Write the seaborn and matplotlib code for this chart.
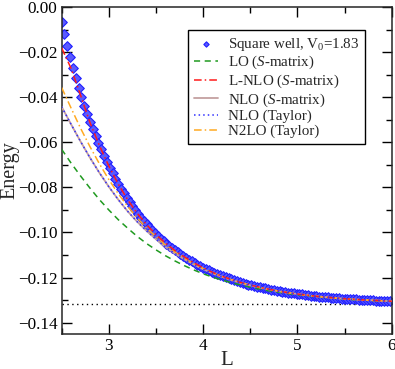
"""
Finite-volume bound state energy: square well vs. effective expansions
"""

import numpy as np
import pandas as pd
import matplotlib
matplotlib.use("Agg")
import matplotlib.pyplot as plt
from matplotlib.ticker import MultipleLocator, FuncFormatter
import seaborn as sns

# ==================== data ====================
# square well points (L grid, step 0.03)
L_well = [
    2.50, 2.53, 2.56, 2.59, 2.62, 2.65, 2.68, 2.71, 2.74, 2.77,
    2.80, 2.83, 2.86, 2.89, 2.92, 2.95, 2.98, 3.01, 3.04, 3.07,
    3.10, 3.13, 3.16, 3.19, 3.22, 3.25, 3.28, 3.31, 3.34, 3.37,
    3.40, 3.43, 3.46, 3.49, 3.52, 3.55, 3.58, 3.61, 3.64, 3.67,
    3.70, 3.73, 3.76, 3.79, 3.82, 3.85, 3.88, 3.91, 3.94, 3.97,
    4.00, 4.03, 4.06, 4.09, 4.12, 4.15, 4.18, 4.21, 4.24, 4.27,
    4.30, 4.33, 4.36, 4.39, 4.42, 4.45, 4.48, 4.51, 4.54, 4.57,
    4.60, 4.63, 4.66, 4.69, 4.72, 4.75, 4.78, 4.81, 4.84, 4.87,
    4.90, 4.93, 4.96, 4.99, 5.02, 5.05, 5.08, 5.11, 5.14, 5.17,
    5.20, 5.23, 5.26, 5.29, 5.32, 5.35, 5.38, 5.41, 5.44, 5.47,
    5.50, 5.53, 5.56, 5.59, 5.62, 5.65, 5.68, 5.71, 5.74, 5.77,
    5.80, 5.83, 5.86, 5.89, 5.92, 5.95, 5.98,
]
E_well = [
    -0.0065, -0.0119, -0.0172, -0.0223, -0.0271, -0.0317, -0.0360, -0.0401, -0.0439, -0.0475,
    -0.0509, -0.0541, -0.0572, -0.0602, -0.0631, -0.0659, -0.0686, -0.0712, -0.0737, -0.0761,
    -0.0784, -0.0805, -0.0826, -0.0846, -0.0865, -0.0884, -0.0901, -0.0918, -0.0934, -0.0949,
    -0.0963, -0.0977, -0.0991, -0.1004, -0.1016, -0.1027, -0.1038, -0.1049, -0.1059, -0.1069,
    -0.1079, -0.1088, -0.1096, -0.1105, -0.1113, -0.1121, -0.1128, -0.1136, -0.1143, -0.1149,
    -0.1156, -0.1162, -0.1168, -0.1174, -0.1179, -0.1185, -0.1190, -0.1194, -0.1199, -0.1204,
    -0.1208, -0.1212, -0.1216, -0.1220, -0.1224, -0.1227, -0.1231, -0.1234, -0.1237, -0.1240,
    -0.1243, -0.1246, -0.1248, -0.1251, -0.1254, -0.1256, -0.1258, -0.1260, -0.1263, -0.1265,
    -0.1267, -0.1269, -0.1270, -0.1272, -0.1274, -0.1275, -0.1277, -0.1278, -0.1280, -0.1281,
    -0.1283, -0.1284, -0.1285, -0.1286, -0.1288, -0.1289, -0.1290, -0.1291, -0.1292, -0.1293,
    -0.1294, -0.1295, -0.1295, -0.1296, -0.1297, -0.1298, -0.1298, -0.1299, -0.1300, -0.1300,
    -0.1301, -0.1302, -0.1302, -0.1303, -0.1303, -0.1304, -0.1304,
]

# expansion curves (L grid, step 0.1)
L_curve = [
    2.5, 2.6, 2.7, 2.8, 2.9, 3.0, 3.1, 3.2, 3.3, 3.4,
    3.5, 3.6, 3.7, 3.8, 3.9, 4.0, 4.1, 4.2, 4.3, 4.4,
    4.5, 4.6, 4.7, 4.8, 4.9, 5.0, 5.1, 5.2, 5.3, 5.4,
    5.5, 5.6, 5.7, 5.8, 5.9, 6.0,
]
E_lo = [
    -0.0631, -0.0692, -0.0749, -0.0803, -0.0854, -0.0900, -0.0943, -0.0981, -0.1017, -0.1049,
    -0.1077, -0.1103, -0.1126, -0.1147, -0.1166, -0.1183, -0.1198, -0.1211, -0.1223, -0.1233,
    -0.1243, -0.1251, -0.1259, -0.1265, -0.1271, -0.1276, -0.1281, -0.1285, -0.1289, -0.1292,
    -0.1295, -0.1298, -0.1300, -0.1302, -0.1304, -0.1305,
]
E_lnlo = [
    -0.0181, -0.0272, -0.0390, -0.0512, -0.0614, -0.0705, -0.0785, -0.0855, -0.0914, -0.0965,
    -0.1009, -0.1047, -0.1080, -0.1108, -0.1134, -0.1157, -0.1177, -0.1194, -0.1209, -0.1222,
    -0.1233, -0.1243, -0.1252, -0.1260, -0.1267, -0.1273, -0.1278, -0.1283, -0.1287, -0.1290,
    -0.1294, -0.1296, -0.1299, -0.1301, -0.1303, -0.1305,
]
E_nlo_s = [
    -0.0442, -0.0520, -0.0596, -0.0668, -0.0735, -0.0797, -0.0854, -0.0906, -0.0952, -0.0993,
    -0.1030, -0.1064, -0.1093, -0.1119, -0.1142, -0.1163, -0.1181, -0.1197, -0.1211, -0.1224,
    -0.1235, -0.1244, -0.1253, -0.1261, -0.1267, -0.1273, -0.1278, -0.1283, -0.1287, -0.1291,
    -0.1294, -0.1297, -0.1299, -0.1301, -0.1303, -0.1305,
]
E_nlo_t = [
    -0.0442, -0.0520, -0.0596, -0.0668, -0.0735, -0.0797, -0.0854, -0.0906, -0.0952, -0.0993,
    -0.1030, -0.1064, -0.1093, -0.1119, -0.1142, -0.1163, -0.1181, -0.1197, -0.1211, -0.1224,
    -0.1235, -0.1244, -0.1253, -0.1261, -0.1267, -0.1273, -0.1278, -0.1283, -0.1287, -0.1291,
    -0.1294, -0.1297, -0.1299, -0.1301, -0.1303, -0.1305,
]
E_n2lo = [
    -0.0357, -0.0448, -0.0537, -0.0619, -0.0695, -0.0765, -0.0828, -0.0884, -0.0935, -0.0980,
    -0.1019, -0.1055, -0.1086, -0.1114, -0.1138, -0.1159, -0.1178, -0.1195, -0.1209, -0.1222,
    -0.1234, -0.1244, -0.1252, -0.1260, -0.1267, -0.1273, -0.1278, -0.1283, -0.1287, -0.1291,
    -0.1294, -0.1297, -0.1299, -0.1301, -0.1303, -0.1305,
]
E_inf = -0.1318  # infinite-volume binding energy

# ==================== style ====================
sns.set_style("ticks")
plt.rcParams['font.family'] = ['Liberation Serif', 'DejaVu Serif']
plt.rcParams['mathtext.fontset'] = 'custom'
plt.rcParams['mathtext.rm'] = 'Liberation Serif'
plt.rcParams['mathtext.it'] = 'Liberation Serif:italic'
plt.rcParams['axes.linewidth'] = 1.1

fig = plt.figure(figsize=(3.95, 3.69), dpi=100)
ax = fig.add_axes([0.156, 0.095, 0.836, 0.886])

# ==================== plot ====================
well = pd.DataFrame({'L': L_well, 'E': E_well})
curves = pd.DataFrame({'L': L_curve, 'LO': E_lo, 'LNLO': E_lnlo,
                       'NLOs': E_nlo_s, 'NLOt': E_nlo_t, 'N2LO': E_n2lo})

sns.scatterplot(data=well, x='L', y='E', ax=ax, marker='D', s=24,
                color='#5a5aff', edgecolor='#2020ff', linewidth=0.8,
                label='Square well, V$_0$=1.83', zorder=2)

sns.lineplot(data=curves, x='L', y='LO', ax=ax, color='#1f9a1f', lw=1.1,
             label='LO ($S$-matrix)', zorder=3)
ax.lines[-1].set_dashes([4, 3])
sns.lineplot(data=curves, x='L', y='LNLO', ax=ax, color='#ff1a1a', lw=1.1,
             label='L-NLO ($S$-matrix)', zorder=4)
ax.lines[-1].set_dashes([5, 2, 1, 2])
sns.lineplot(data=curves, x='L', y='NLOs', ax=ax, color='#c4a0a0', lw=1.3,
             label='NLO ($S$-matrix)', zorder=3)
sns.lineplot(data=curves, x='L', y='NLOt', ax=ax, color='#3030ff', lw=1.1,
             label='NLO (Taylor)', zorder=4)
ax.lines[-1].set_dashes([1, 2])
sns.lineplot(data=curves, x='L', y='N2LO', ax=ax, color='#ffaa22', lw=1.1,
             label='N2LO (Taylor)', zorder=3)
ax.lines[-1].set_dashes([5, 2, 1, 2])

ax.axhline(E_inf, color='black', lw=1.0, ls=(0, (1, 2.5)), zorder=1)

# ==================== axes ====================
ax.set_xlim(2.5, 6.0)
ax.set_ylim(-0.145, 0.0)
ax.xaxis.set_major_locator(MultipleLocator(1))
ax.xaxis.set_minor_locator(MultipleLocator(0.5))
ax.yaxis.set_major_locator(MultipleLocator(0.02))
ax.yaxis.set_minor_locator(MultipleLocator(0.01))
# real minus sign on the y tick labels
ax.yaxis.set_major_formatter(FuncFormatter(lambda v, p: f'{v:.2f}'.replace('-', '\u2212')))
ax.tick_params(which='both', direction='in', top=True, right=True,
               labelsize=12.3, width=1.0, colors='black')
ax.tick_params(which='major', length=7, pad=3)
ax.tick_params(which='minor', length=4)

ax.set_xlabel('L', fontsize=15, labelpad=-2)
ax.set_ylabel('Energy', fontsize=14.5, labelpad=-1)

leg = ax.legend(loc='upper left', bbox_to_anchor=(0.382, 0.930),
                borderaxespad=0, fontsize=10.8, frameon=True, fancybox=False,
                framealpha=1, edgecolor='black', handlelength=1.6,
                handletextpad=0.65, borderpad=0.4, labelspacing=0.08,
                markerscale=0.55)
leg.get_frame().set_linewidth(1.0)

plt.savefig('out.png', dpi=100)
